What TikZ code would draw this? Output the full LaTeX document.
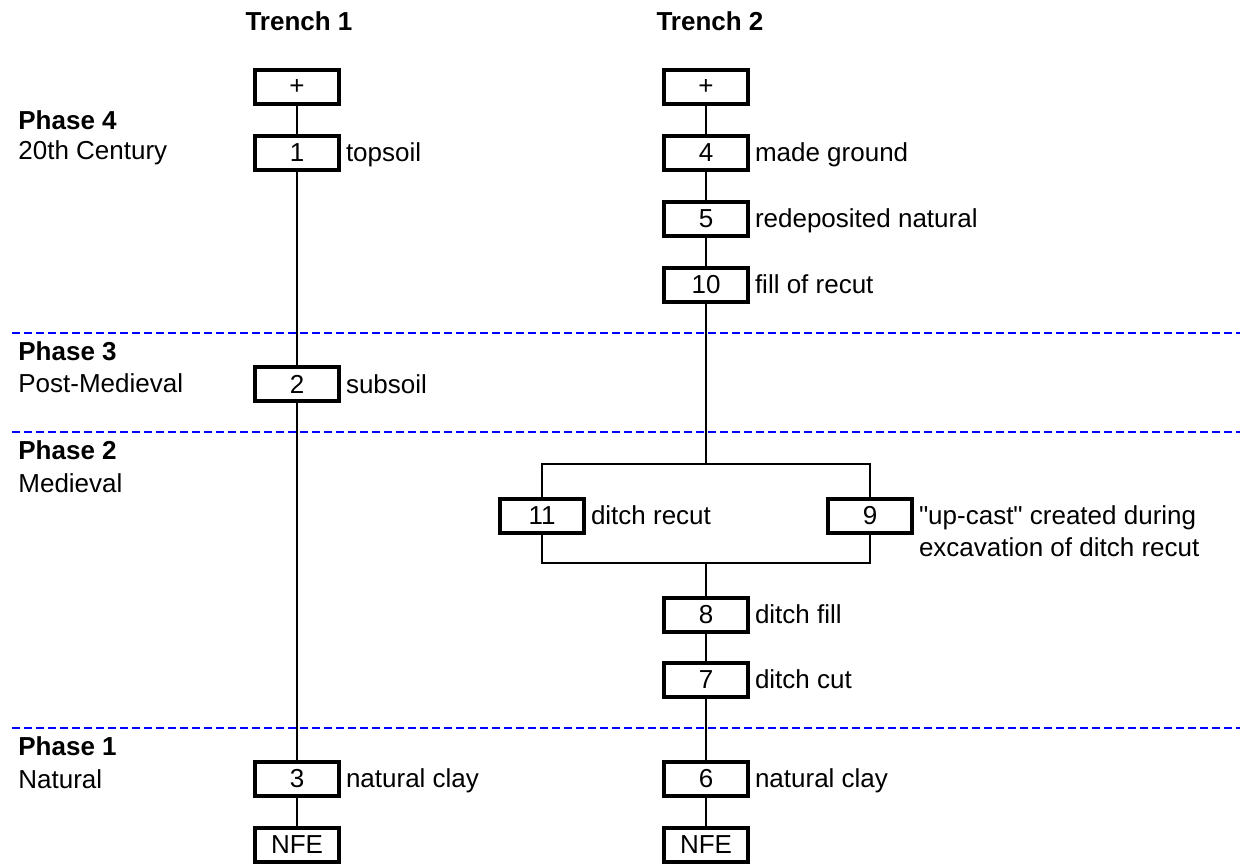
\documentclass[tikz,border=0pt]{standalone}
\usepackage{fontspec}
\setmainfont{Liberation Sans}[Ligatures=TeXOff]
\usetikzlibrary{positioning}

\begin{document}
\begin{tikzpicture}[x=0.5pt,y=-0.5pt,
		every node/.style={font=\fontsize{13}{16}\selectfont},
		unit/.style={draw,line width=1.6pt,fill=white,minimum width=42pt,minimum height=17pt,inner sep=0pt},
		desc/.style={inner sep=0pt},
		phase/.style={anchor=west,inner sep=0pt},
		link/.style={line width=0.8pt},
		divider/.style={blue,line width=1pt,dash pattern=on 4pt off 2pt}]
	\useasboundingbox (0,0) rectangle (1248,864);
	% phase boundaries
	\draw[divider] (12,333) -- (1240,333);
	\draw[divider] (12,432) -- (1240,432);
	\draw[divider] (12,728) -- (1240,728);
	
	\node[inner sep=0pt] (tr1) at (299,21) {\bfseries Trench 1};
	\node[inner sep=0pt] (tr2) at (710,21) {\bfseries Trench 2};
	
	\node[phase] (ph4) at (18,120) {\bfseries Phase 4};
	\node[phase] (ph4n) at (18,153) {20th Century};
	\node[phase] (ph3) at (18,351) {\bfseries Phase 3};
	\node[phase] (ph3n) at (18,383) {Post-Medieval};
	\node[phase] (ph2) at (18,450) {\bfseries Phase 2};
	\node[phase] (ph2n) at (18,483) {Medieval};
	\node[phase] (ph1) at (18,746) {\bfseries Phase 1};
	\node[phase] (ph1n) at (18,779) {Natural};
	
	% trench 1
	\node[unit] (t1top) at (297,87) {+};
	\node[unit] (u1) at (297,153) {1};
	\node[unit] (u2) at (297,384) {2};
	\node[unit] (u3) at (297,779) {3};
	\node[unit] (t1nfe) at (297,845) {NFE};
	
	% trench 2
	\node[unit] (t2top) at (706,87) {+};
	\node[unit] (u4) at (706,153) {4};
	\node[unit] (u5) at (706,219) {5};
	\node[unit] (u10) at (706,285) {10};
	\node[unit] (u11) at (542,516) {11};
	\node[unit] (u9) at (870,516) {9};
	\node[unit] (u8) at (706,615) {8};
	\node[unit] (u7) at (706,680) {7};
	\node[unit] (u6) at (706,779) {6};
	\node[unit] (t2nfe) at (706,845) {NFE};
	\coordinate (split) at (706,464);
	\coordinate (join) at (706,563);
	
	\node[desc,base right=2.5pt of u1] {topsoil};
	\node[desc,base right=2.5pt of u2] {subsoil};
	\node[desc,base right=2.5pt of u3] {natural clay};
	\node[desc,base right=2.5pt of u4] {made ground};
	\node[desc,base right=2.5pt of u5] {redeposited natural};
	\node[desc,base right=2.5pt of u10] {fill of recut};
	\node[desc,base right=2.5pt of u11] {ditch recut};
	\node[desc,base right=2.5pt of u9] {\vtop{\hbox{"up-cast" created during}\hbox{excavation of ditch recut}}};
	\node[desc,base right=2.5pt of u8] {ditch fill};
	\node[desc,base right=2.5pt of u7] {ditch cut};
	\node[desc,base right=2.5pt of u6] {natural clay};
	
	\draw[link] (t1top) -- (u1) -- (u2) -- (u3) -- (t1nfe);
	\draw[link] (t2top) -- (u4) -- (u5) -- (u10) -- (split);
	\draw[link] (u11) |- (split) -| (u9);
	\draw[link] (u11) |- (join) -| (u9);
	\draw[link] (join) -- (u8) -- (u7) -- (u6) -- (t2nfe);
\end{tikzpicture}
\end{document}
